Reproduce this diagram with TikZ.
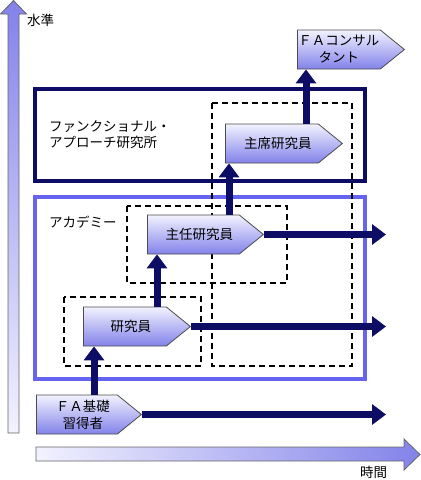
\documentclass[tikz,border=0pt]{standalone}
\usepackage{fontspec}
\setmainfont{Noto Sans CJK JP}
\usetikzlibrary{shapes.symbols, arrows.meta}

\definecolor{navy}{HTML}{0D0D66}
\definecolor{academy}{HTML}{6464F0}
\definecolor{pale}{HTML}{F2F2FF}
\definecolor{lilac}{HTML}{8282EA}

\newcommand{\pad}{\hspace*{12pt}}

\tikzset{
	stage/.style={shape=signal, signal to=east, signal pointer angle=78, draw=black!70, line width=0.8pt, top color=pale, bottom color=lilac, minimum height=39pt, inner sep=0pt, align=center, font=\fontsize{13.5pt}{17pt}\selectfont},
	flow/.style={line width=7pt, draw=navy, -{Triangle[width=20pt, length=14pt]}},
	frame/.style={line width=2pt, dash pattern=on 6pt off 4pt},
	label/.style={inner sep=0pt, align=left, font=\fontsize{13.5pt}{16pt}\selectfont}
}

\begin{document}
\begin{tikzpicture}[x=1pt, y=-1pt]
	\useasboundingbox (0,0) rectangle (421,480);

	\coordinate (upA) at (94,0);
	\coordinate (upB) at (157,0);
	\coordinate (upC) at (229,0);
	\coordinate (upD) at (306,0);
	\coordinate (goal) at (386,0);

	\shade[top color=lilac, bottom color=pale, draw=black!60, line width=0.8pt] (8,433) -- (8,14) -- (0.5,14) -- (13.5,0.5) -- (26.5,14) -- (19,14) -- (19,433) -- cycle;
	\shade[left color=pale, right color=lilac, draw=black!60, line width=0.8pt] (36,447) -- (404,447) -- (404,439) -- (420,454.5) -- (404,470) -- (404,461) -- (36,461) -- cycle;
	\node[label, anchor=west] (level) at (27,20) {水準};
	\node[label, anchor=west] (time) at (360,472) {時間};

	\draw[navy, line width=4pt] (35,89) rectangle (365,181);
	\draw[academy, line width=4pt] (35,197) rectangle (365,379);
	\node[label, anchor=west] (fal) at (49,135) {ファンクショナル・\\アプローチ研究所};
	\node[label, anchor=west] (academy) at (49,222) {アカデミー};

	\draw[frame] (212,103) rectangle (352,366);
	\draw[frame] (127,206) rectangle (287,283);
	\draw[frame] (64,297) rectangle (201,366);

	\node[stage, minimum width=105pt, anchor=west] (basic) at (36,414.5) {\pad ＦＡ基礎\\\pad 習得者};
	\node[stage, minimum width=107pt, anchor=west] (researcher) at (83,326.5) {\pad 研究員};
	\node[stage, minimum width=116pt, anchor=west] (senior) at (147,234.5) {\pad 主任研究員};
	\node[stage, minimum width=117pt, anchor=west] (chief) at (225,143.5) {\pad 主席研究員};
	\node[stage, minimum width=107pt, anchor=west] (consultant) at (297,49.5) {ＦＡコンサル\\タント};

	\draw[flow] (basic.north -| upA) -- (researcher.south -| upA);
	\draw[flow] (researcher.north -| upB) -- (senior.south -| upB);
	\draw[flow] (senior.north -| upC) -- (chief.south -| upC);
	\draw[flow] (chief.north -| upD) -- (consultant.south -| upD);
	\draw[flow] (basic.east) -- (basic.east -| goal);
	\draw[flow] (researcher.east) -- (researcher.east -| goal);
	\draw[flow] (senior.east) -- (senior.east -| goal);
\end{tikzpicture}
\end{document}
